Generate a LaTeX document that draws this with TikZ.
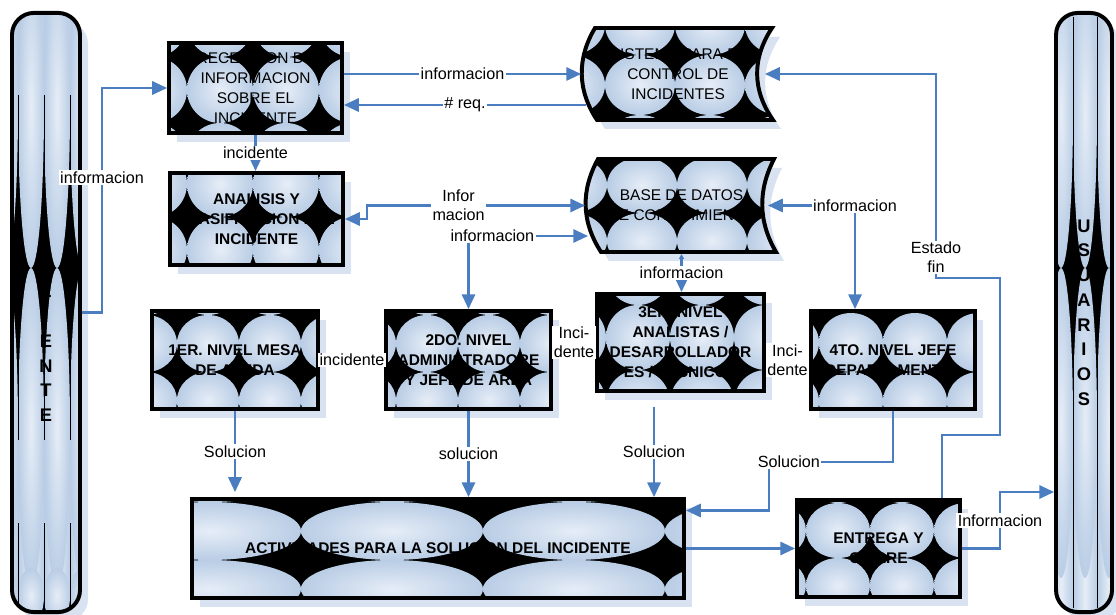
\documentclass[tikz,border=0pt]{standalone}
\usepackage{fontspec}
\setmainfont{Liberation Sans}
\usetikzlibrary{arrows.meta}

\definecolor{azulbase}{HTML}{B9CDE5}
\definecolor{azulclaro}{HTML}{E6EDF7}
\definecolor{sombraazul}{HTML}{D8E2F1}
\definecolor{azullinea}{HTML}{4A7EC1}

\tikzset{
  caja/.style={draw=black,line width=2.8pt,inner sep=0pt,align=center,font=\fontsize{11}{14.2}\selectfont},
  cajab/.style={caja,font=\bfseries\fontsize{11}{14.2}\selectfont},
  pilar/.style={draw=black,line width=2.8pt,rounded corners=0.55cm,inner sep=0pt,minimum height=14.975cm},
  letras/.style={align=center,font=\bfseries\fontsize{13}{17.6}\selectfont},
  sombra/.style={fill=sombraazul},
  bola/.style={inner color=azulclaro,outer color=azulbase},
  columna/.style={left color=azulbase,right color=azulbase,middle color=azulclaro},
  punta/.tip={Triangle[length=10.5pt,width=9.5pt]},
  puntita/.tip={Triangle[length=3.5pt,width=3.5pt]},
  linea/.style={draw=azullinea,line width=1.5pt},
  flecha/.style={linea,-punta},
  doble/.style={linea,punta-punta},
  chica/.style={linea,-puntita},
  lab/.style={fill=white,inner sep=1pt,text=black,align=center,font=\fontsize{11.5}{13.5}\selectfont}
}

% rejilla de bolas: esquina x0, y0, paso sx, sy
\newcommand\bolas[4]{%
  \foreach \ii in {-3,...,3}{\foreach \jj in {-2,...,2}{%
    \shade[bola] ({#1+(\ii+0.5)*#3},{#2+(\jj+0.5)*#4}) ellipse [x radius=#3/2,y radius=#4/2];}}}
% fondo de caja: x1,y1,x2,y2 y rejilla
\newcommand\fondo[8]{%
  \fill[sombra] ({#1+8},{#2+9}) rectangle ({#3+8},{#4+9});
  \begin{scope}
    \clip (#1,#2) rectangle (#3,#4);
    \fill (#1,#2) rectangle (#3,#4);
    \bolas{#5}{#6}{#7}{#8}
  \end{scope}}

\def\formasis{(595,28) -- (772,28) .. controls (752,58) and (752,90) .. (773,120) -- (597,120) .. controls (577,90) and (577,58) .. (595,28) -- cycle}
\def\formabd{(598,159) -- (774,159) .. controls (758,190) and (758,221) .. (776,252) -- (601,252) .. controls (581,221) and (581,190) .. (598,159) -- cycle}

\begin{document}
\begin{tikzpicture}[x=0.025cm,y=-0.025cm,line join=miter]
\path[use as bounding box,fill=white] (0,0) rectangle (1116,615);

% cliente
\fill[sombra,rounded corners=0.55cm] (20,22) rectangle (88,621);
\begin{scope}
  \clip[rounded corners=0.55cm] (12,13) rectangle (80,612);
  \foreach \x in {5,31,57,83} \shade[columna] (\x-13,13) rectangle (\x+13,612);
  \fill (12,108) rectangle (80,428);
  \fill (12,596) rectangle (80,612);
  \foreach \x in {5,31,57,83}{
    \shade[bola] (\x,108) ellipse [x radius=13,y radius=160];
    \shade[bola] (\x,428) ellipse [x radius=13,y radius=160];
    \shade[bola] (\x,596) ellipse [x radius=13,y radius=28];}
  \foreach \x in {18,44,70} \draw[very thin] (\x,95) -- (\x,440) (\x,523) -- (\x,612);
\end{scope}
\node[pilar,minimum width=1.7cm] (cli) at (46,312.5) {};
\node[letras] (clitxt) at ([shift={(0,28.5)}]cli.center) {C\\L\\I\\E\\N\\T\\E};

% usuarios
\fill[sombra,rounded corners=0.55cm] (1064,22) rectangle (1120,621);
\begin{scope}
  \clip[rounded corners=0.55cm] (1056,13) rectangle (1112,612);
  \foreach \x in {1061,1085,1109} \shade[columna] (\x-12,13) rectangle (\x+12,612);
  \fill (1056,113) rectangle (1112,423);
  \foreach \x in {1037,1061,1085,1109}{
    \shade[bola] (\x,113) ellipse [x radius=12,y radius=155];
    \shade[bola] (\x,423) ellipse [x radius=12,y radius=155];}
  \foreach \x in {1073,1097} \draw[very thin] (\x,17) -- (\x,608);
\end{scope}
\node[pilar,minimum width=1.4cm,letras] (usu) at (1084,312.5) {U\\S\\U\\A\\R\\I\\O\\S};

% cajas
\fondo{169}{43}{342}{133}{187}{57}{66}{66}
\node[caja,minimum width=4.325cm,minimum height=2.25cm] (rec) at (255.5,88) {RECEPCION DE\\INFORMACION\\SOBRE EL\\INCIDENTE};
\fondo{170}{173}{343}{265}{187}{217}{66}{66}
\node[cajab,minimum width=4.325cm,minimum height=2.3cm] (ana) at (256.5,219) {ANALISIS Y\\CLASIFICACION DEL\\INCIDENTE};

\fill[sombra,shift={(8,9)}] \formasis;
\begin{scope}
  \clip \formasis;
  \fill (570,20) rectangle (780,125);
  \bolas{605}{55}{70}{60}
\end{scope}
\draw[line width=2.8pt] \formasis;
\node[caja,draw=none,minimum width=4.75cm,minimum height=2.3cm] (sis) at (678,74) {SISTEMA PARA EL\\CONTROL DE\\INCIDENTES};

\fill[sombra,shift={(8,9)}] \formabd;
\begin{scope}
  \clip \formabd;
  \fill (570,150) rectangle (785,260);
  \bolas{607}{213}{70}{56}
\end{scope}
\draw[line width=2.8pt] \formabd;
\node[caja,draw=none,minimum width=4.725cm,minimum height=2.325cm] (bd) at (681.5,205.5) {BASE DE DATOS\\DE CONOCIMIENTO};

\fondo{152}{311}{318}{409}{177}{315}{62}{57}
\node[cajab,minimum width=4.15cm,minimum height=2.45cm] (n1) at (235,360) {1ER. NIVEL MESA\\DE AYUDA};
\fondo{386}{311}{551}{409}{396}{315}{62}{57}
\node[cajab,minimum width=4.125cm,minimum height=2.45cm] (n2) at (468.5,360) {2DO. NIVEL\\ADMINISTRADORE\\Y JEFE DE AREA};
\fondo{597}{294}{764}{391}{606}{305}{64}{65}
\node[cajab,minimum width=4.175cm,minimum height=2.425cm] (n3) at (680.5,342.5) {3ER. NIVEL\\ANALISTAS /\\DESARROLLADOR\\ES / TECNICOS};
\fondo{811}{311}{975}{409}{819}{313}{64}{59}
\node[cajab,minimum width=4.1cm,minimum height=2.45cm] (n4) at (893,360) {4TO. NIVEL JEFE\\DEPARTAMENTAL};
\fondo{192}{499}{684}{598}{301}{502}{182}{58}
\node[cajab,minimum width=12.3cm,minimum height=2.475cm] (act) at (438,548.5) {ACTIVIDADES PARA LA SOLUCION DEL INCIDENTE};
\fondo{797}{500}{960}{597}{806}{503}{64}{55}
\node[cajab,minimum width=4.075cm,minimum height=2.425cm] (ent) at (878.5,548.5) {ENTREGA Y\\CIERRE};

% conectores
\draw[flecha] (cli.east) -- ++(20,0) |- node[lab,pos=0.3]{informacion} (rec.west);
\draw[flecha] (rec.east |- sis.west) -- node[lab]{informacion} (sis.west);
\draw[flecha] ([shift={(5,31)}]sis.west) -- node[lab]{\# req.} ([shift={(0,17)}]rec.east);
\draw[flecha] (rec.south) -- node[lab]{incidente} (rec.south |- ana.north);
\draw[doble] (ana.east) -- ++(22,0) |- node[lab,pos=0.71]{Infor\\macion} (bd.west);
\draw[doble] (n2.north) |- node[lab,pos=0.6]{informacion} ([shift={(3,30.5)}]bd.west);
\draw[linea,puntita-punta] (bd.south) -- node[lab]{informacion} (bd.south |- n3.north);
\draw[doble] ([shift={(-38,0)}]n4.north) |- node[lab]{informacion} ([shift={(-10,0)}]bd.east);
\draw[flecha] ([shift={(63.5,0)}]ent.north) -- ++(0,-63) -- ++(58,0) -- ++(0,-157) -- ++(-64,0) |- node[lab,pos=0.05]{Estado\\fin} ([shift={(-10,0)}]sis.east);
\draw[chica] (n1.east) -- node[lab]{incidente} (n2.west);
\draw[chica] (n2.east |- n3.west) -- node[lab]{Inci-\\dente} (n3.west);
\draw[chica] (n3.east |- n4.west) -- node[lab]{Inci-\\dente} (n4.west);
\coordinate (s1) at (235,492);
\draw[flecha] (n1.south) -- node[lab]{Solucion} (s1);
\draw[flecha] (n2.south) -- node[lab]{solucion} (n2.south |- act.north);
\coordinate (s3) at (654,407);
\draw[flecha] (s3) -- node[lab]{Solucion} (s3 |- act.north);
\draw[flecha] (n4.south) -- ++(0,51) -- node[lab,pos=0.84]{Solucion} ++(-124,0) |- ([shift={(0,-38)}]act.east);
\draw[flecha] (act.east) -- (ent.west);
\draw[flecha] (ent.east) -- ++(38,0) |- node[lab,pos=0.25]{Informacion} ([shift={(0,179.5)}]usu.west);
\end{tikzpicture}
\end{document}
